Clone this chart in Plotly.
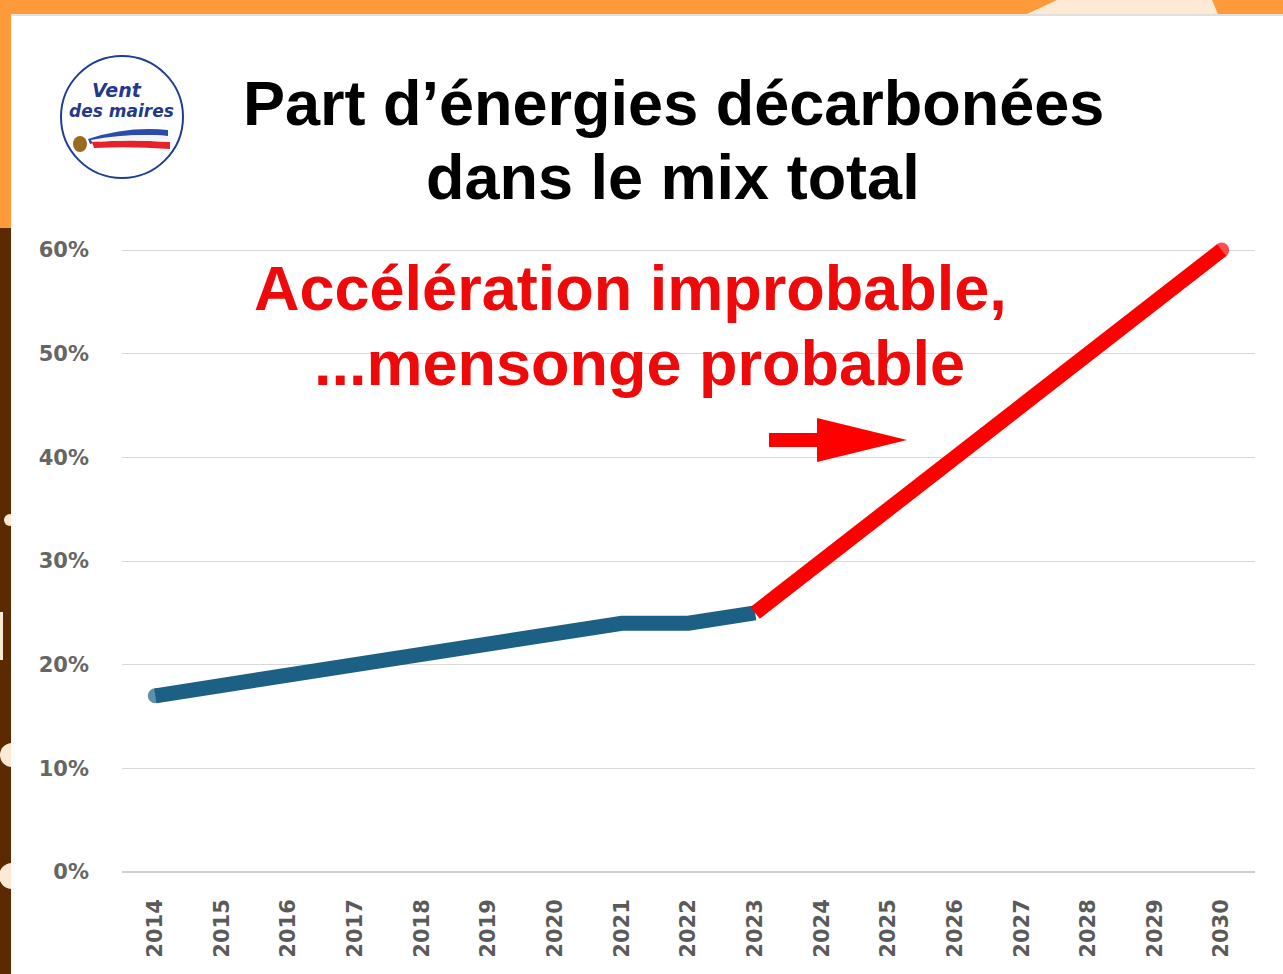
import plotly.graph_objects as go

# ---- data ----
years = ["2014", "2015", "2016", "2017", "2018", "2019", "2020", "2021", "2022",
         "2023", "2024", "2025", "2026", "2027", "2028", "2029", "2030"]
hist_years = ["2014", "2015", "2016", "2017", "2018", "2019", "2020", "2021", "2022", "2023"]
hist_values = [17, 18, 19, 20, 21, 22, 23, 24, 24, 25]
proj_years = ["2023", "2024", "2025", "2026", "2027", "2028", "2029", "2030"]
proj_values = [25, 30, 35, 40, 45, 50, 55, 60]
y_ticks = [0, 10, 20, 30, 40, 50, 60]

title_lines = ["Part d’énergies décarbonées", "dans le mix total"]
note_lines = ["Accélération improbable,", "...mensonge probable"]

W, H = 1283, 974
L, R, T, B = 122, 1255, 219, 872  # plot area in pixels


def px(x):
    return (x - L) / (R - L)


def py(y):
    return (B - y) / (B - T)


def path(cmds):
    out = []
    for c in cmds:
        if isinstance(c, str):
            out.append(c)
        else:
            out.append(f"{px(c[0]):.5f},{py(c[1]):.5f}")
    return " ".join(out)


BLUE = "#1c6085"
RED = "#ff0000"

fig = go.Figure()
fig.add_trace(go.Scatter(
    x=hist_years, y=hist_values, mode="lines+markers",
    line=dict(color=BLUE, width=15),
    marker=dict(color=BLUE, size=[15] + [0] * (len(hist_values) - 1), line=dict(width=0)),
    hoverinfo="skip", showlegend=False, cliponaxis=False))
fig.add_trace(go.Scatter(
    x=proj_years, y=proj_values, mode="lines+markers",
    line=dict(color=RED, width=15),
    marker=dict(color=RED, size=[0] * (len(proj_values) - 1) + [15], line=dict(width=0)),
    hoverinfo="skip", showlegend=False, cliponaxis=False))

shapes = []
ORANGE = "#ff9a3a"
BROWN = "#5c2a00"
CREAM = "#fde9d4"
# orange top band & left band
shapes.append(dict(type="rect", xref="paper", yref="paper", x0=px(0), x1=px(W), y0=py(14), y1=py(0),
                   fillcolor=ORANGE, line=dict(width=0), layer="below"))
shapes.append(dict(type="rect", xref="paper", yref="paper", x0=px(0), x1=px(11), y0=py(228), y1=py(0),
                   fillcolor=ORANGE, line=dict(width=0), layer="below"))
shapes.append(dict(type="rect", xref="paper", yref="paper", x0=px(0), x1=px(11), y0=py(H), y1=py(228),
                   fillcolor=BROWN, line=dict(width=0), layer="below"))
# cream shape in top band
shapes.append(dict(type="path", xref="paper", yref="paper",
                   path=path(["M", (1027, 14), "L", (1057, 0), "L", (1212, 0), "L", (1218, 14), "Z"]),
                   fillcolor=CREAM, line=dict(width=0), layer="below"))
# card top edge shadow
shapes.append(dict(type="line", xref="paper", yref="paper", x0=px(11), x1=px(W), y0=py(15), y1=py(15),
                   line=dict(color="#e0e0e0", width=2), layer="below"))
# blobs on brown strip
for cx, cy, r in [(10, 520, 6), (12, 755, 12), (12, 876, 13)]:
    shapes.append(dict(type="circle", xref="paper", yref="paper",
                       x0=px(cx - r), x1=px(cx + r), y0=py(cy + r), y1=py(cy - r),
                       fillcolor=CREAM, line=dict(width=0), layer="below"))
shapes.append(dict(type="rect", xref="paper", yref="paper", x0=px(0), x1=px(3), y0=py(660), y1=py(612),
                   fillcolor=CREAM, line=dict(width=0), layer="below"))
shapes.append(dict(type="rect", xref="paper", yref="paper", x0=px(11), x1=px(W), y0=py(H), y1=py(16),
                   fillcolor="#ffffff", line=dict(width=0), layer="below"))

# logo
shapes.append(dict(type="circle", xref="paper", yref="paper",
                   x0=px(61), x1=px(183), y0=py(178), y1=py(56),
                   fillcolor="white", line=dict(color="#1f3d96", width=2)))
shapes.append(dict(type="path", xref="paper", yref="paper",
                   path=path(["M", (88, 139), "Q", (128, 126), (168, 130), "L", (168, 136),
                              "Q", (128, 132), (90, 144), "Z"]),
                   fillcolor="#2a4ca8", line=dict(width=0)))
shapes.append(dict(type="path", xref="paper", yref="paper",
                   path=path(["M", (92, 142), "Q", (130, 139), (170, 142), "L", (170, 149),
                              "Q", (130, 146), (94, 148), "Z"]),
                   fillcolor="#e8202a", line=dict(width=0)))
shapes.append(dict(type="path", xref="paper", yref="paper",
                   path=path(["M", (91, 140), "Q", (128, 133), (168, 136), "L", (170, 142),
                              "Q", (130, 139), (92, 142), "Z"]),
                   fillcolor="#f4f4f4", line=dict(width=0)))
shapes.append(dict(type="circle", xref="paper", yref="paper",
                   x0=px(73), x1=px(87), y0=py(152), y1=py(136),
                   fillcolor="#9a6a22", line=dict(width=0)))

# arrow
shapes.append(dict(type="rect", xref="paper", yref="paper", x0=px(769), x1=px(822), y0=py(447), y1=py(433),
                   fillcolor=RED, line=dict(width=0)))
shapes.append(dict(type="path", xref="paper", yref="paper",
                   path=path(["M", (817, 418), "L", (907, 440), "L", (817, 462), "Z"]),
                   fillcolor=RED, line=dict(width=0)))

annotations = []
annotations.append(dict(text="<i><b>Vent</b></i>", x=px(117), y=py(90), xref="paper", yref="paper",
                        showarrow=False, xanchor="center", yanchor="middle",
                        font=dict(family="DejaVu Sans", size=19, color="#24398c")))
annotations.append(dict(text="<i><b>des maires</b></i>", x=px(121), y=py(111), xref="paper", yref="paper",
                        showarrow=False, xanchor="center", yanchor="middle",
                        font=dict(family="DejaVu Sans", size=17, color="#24398c")))
for line, yc in zip(title_lines, [103, 177]):
    annotations.append(dict(text=f"<b>{line}</b>", x=px(673), y=py(yc), xref="paper", yref="paper",
                            showarrow=False, xanchor="center", yanchor="middle",
                            font=dict(family="Liberation Sans", size=63, color="#000000")))
for line, xc, yc in zip(note_lines, [630, 639], [288, 363]):
    annotations.append(dict(text=f"<b>{line}</b>", x=px(xc), y=py(yc), xref="paper", yref="paper",
                            showarrow=False, xanchor="center", yanchor="middle",
                            font=dict(family="Liberation Sans", size=63, color="#ee0a0a")))

fig.update_layout(
    width=W, height=H,
    margin=dict(l=L, r=W - R, t=T, b=H - B, pad=0),
    paper_bgcolor="white", plot_bgcolor="white",
    shapes=shapes, annotations=annotations,
    xaxis=dict(type="category", categoryorder="array", categoryarray=years,
               tickvals=years, ticktext=years, range=[-0.5, len(years) - 0.5],
               tickangle=-90, showgrid=False, zeroline=False, showline=False, ticks="",
               ticklabelstandoff=22,
               tickfont=dict(family="DejaVu Sans", size=21, color="#5a5a5a", weight="bold")),
    yaxis=dict(range=[0, 63], tickvals=y_ticks, ticktext=[f"{v}%" for v in y_ticks],
               showgrid=True, gridcolor="#d9d9d9", gridwidth=1, zeroline=True,
               zerolinecolor="#cfcfcf", zerolinewidth=2, showline=False, ticks="",
               ticklabelstandoff=32,
               tickfont=dict(family="DejaVu Sans", size=21, color="#666666", weight="bold")),
)

fig.write_html("out.html", config={"displayModeBar": False},
               post_script="document.body.style.margin='0';document.body.style.overflow='hidden';")
